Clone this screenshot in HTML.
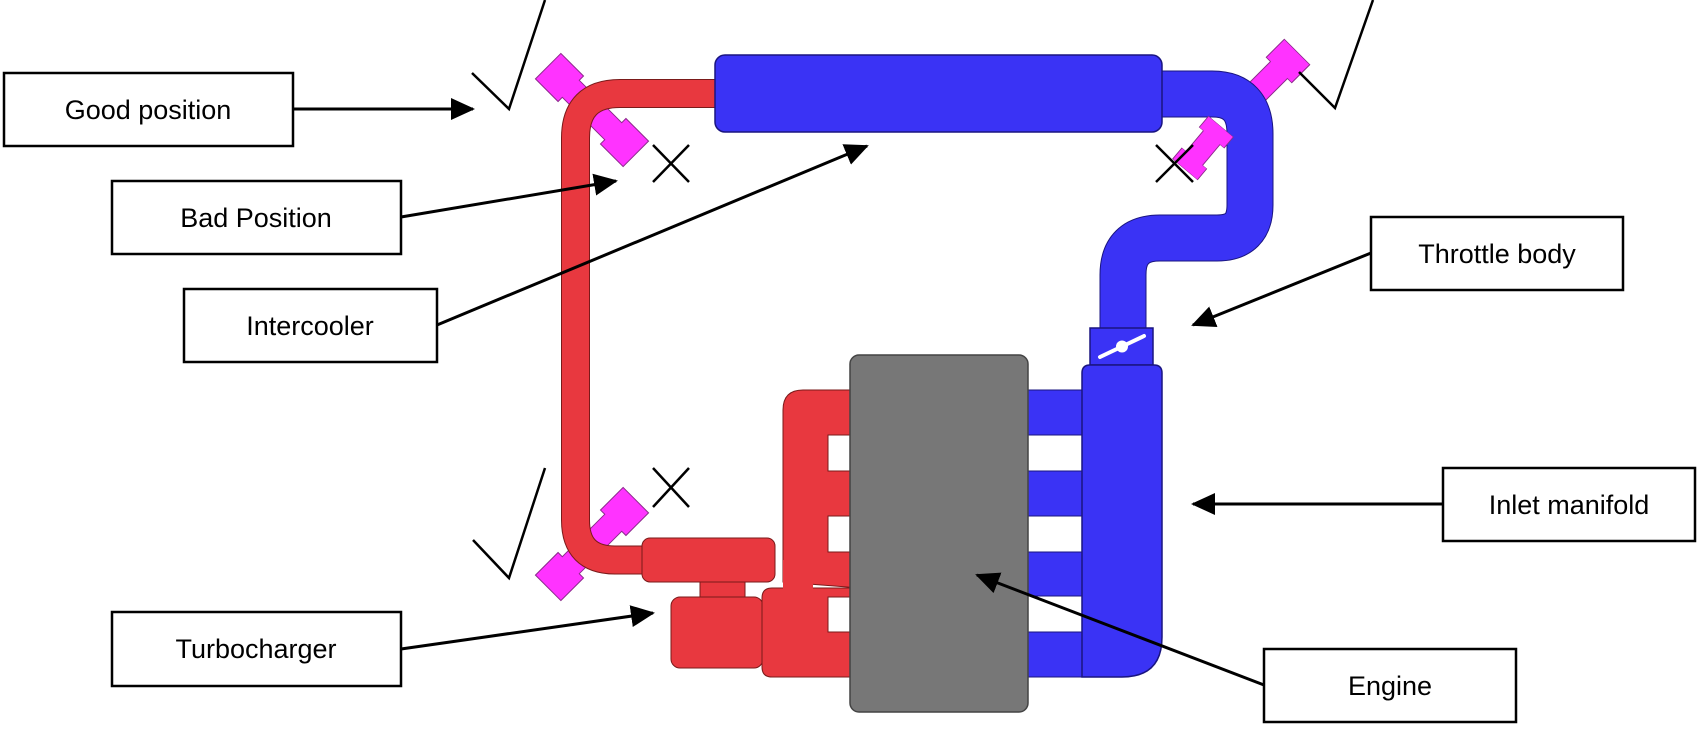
<!DOCTYPE html>
<html><head><meta charset="utf-8"><style>
html,body{margin:0;padding:0;background:#fff;}
svg{display:block;}
text{font-family:"Liberation Sans",sans-serif;font-size:27px;fill:#000;}
</style></head><body>
<svg width="1702" height="729" viewBox="0 0 1702 729" xmlns="http://www.w3.org/2000/svg">
<defs>
<marker id="ah" markerWidth="24" markerHeight="22" refX="22" refY="11" orient="auto" markerUnits="userSpaceOnUse">
<path d="M0,0 L24,11 L0,22 Z" fill="#000"/>
</marker>
<polygon id="sen" points="-62,-18 -30,-18 -30,-12 30,-12 30,-18 62,-18 62,18 30,18 30,12 -30,12 -30,18 -62,18" fill="#ff33ff" stroke="#8a2a8a" stroke-width="1"/>
</defs>

<use href="#sen" transform="translate(592,110) rotate(45)"/>
<use href="#sen" transform="translate(592,544) rotate(-45)"/>
<use href="#sen" transform="translate(1262,87) rotate(-45) scale(0.8,1)"/>

<path d="M716,93.5 H620 Q575.5,93.5 575.5,138 V520 Q575.5,560 615,560 H650" fill="none" stroke="#7a1a1a" stroke-width="29"/>
<path d="M717,93.5 H620 Q575.5,93.5 575.5,138 V520 Q575.5,560 615,560 H651" fill="none" stroke="#e8383f" stroke-width="27"/>

<path d="M1160,94 H1212 Q1250,94 1250,134 V205 Q1250,238 1217,238 H1160 Q1123,238 1123,275 V332" fill="none" stroke="#1a1580" stroke-width="47"/>
<path d="M1159,94 H1212 Q1250,94 1250,134 V205 Q1250,238 1217,238 H1160 Q1123,238 1123,275 V333" fill="none" stroke="#3a33f5" stroke-width="45"/>

<use href="#sen" transform="translate(1203,148) rotate(-50) scale(0.45,0.9)"/>

<rect x="715" y="55" width="447" height="77" rx="10" fill="#3a33f5" stroke="#1a1580" stroke-width="1.5"/>

<rect x="1090" y="328" width="63" height="37" fill="#3a33f5" stroke="#1a1580" stroke-width="1.5"/>
<line x1="1100" y1="357" x2="1144" y2="336" stroke="#fff" stroke-width="4" stroke-linecap="round"/>
<circle cx="1122" cy="346.5" r="6" fill="#fff"/>

<rect x="1025" y="390" width="60" height="45" fill="#3a33f5" stroke="#1a1580" stroke-width="1"/>
<rect x="1025" y="471" width="60" height="45" fill="#3a33f5" stroke="#1a1580" stroke-width="1"/>
<rect x="1025" y="552" width="60" height="44" fill="#3a33f5" stroke="#1a1580" stroke-width="1"/>
<rect x="1025" y="632" width="60" height="45" fill="#3a33f5" stroke="#1a1580" stroke-width="1"/>
<path d="M1082,373 Q1082,365 1090,365 H1154 Q1162,365 1162,373 V637 Q1162,677 1122,677 H1082 Z" fill="#3a33f5" stroke="#1a1580" stroke-width="1.5"/>

<rect x="700" y="578" width="45" height="22" fill="#e8383f" stroke="#7a1a1a" stroke-width="1"/>
<rect x="642" y="538" width="133" height="44" rx="8" fill="#e8383f" stroke="#7a1a1a" stroke-width="1"/>
<rect x="671" y="597" width="92" height="71" rx="9" fill="#e8383f" stroke="#7a1a1a" stroke-width="1"/>
<path d="M762,598 Q762,588 772,588 H860 V677 H772 Q762,677 762,667 Z" fill="#e8383f" stroke="#7a1a1a" stroke-width="1"/>
<path d="M783,582 V410 Q783,390 803,390 H860 V588 Z" fill="#e8383f" stroke="#7a1a1a" stroke-width="1"/>
<rect x="783" y="560" width="30" height="40" fill="#e8383f"/>
<rect x="828" y="435" width="25" height="36" fill="#fff" stroke="#7a1a1a" stroke-width="1"/>
<rect x="828" y="516" width="25" height="36" fill="#fff" stroke="#7a1a1a" stroke-width="1"/>
<rect x="828" y="597" width="25" height="35" fill="#fff" stroke="#7a1a1a" stroke-width="1"/>

<rect x="850" y="355" width="178" height="357" rx="9" fill="#777777" stroke="#444" stroke-width="1.5"/>

<g fill="none" stroke="#000" stroke-width="2.5">
<polyline points="472,73 509,109 545,0"/>
<polyline points="1299,72 1335,108 1373,0"/>
<polyline points="473,540 509,578 545,468"/>
<line x1="653" y1="145" x2="689" y2="182"/><line x1="689" y1="145" x2="653" y2="182"/>
<line x1="1156" y1="145" x2="1193" y2="182"/><line x1="1193" y1="145" x2="1156" y2="182"/>
<line x1="653" y1="468" x2="689" y2="507"/><line x1="689" y1="468" x2="653" y2="507"/>
</g>

<g fill="#fff" stroke="#000" stroke-width="2.5">
<rect x="4" y="73" width="289" height="73"/>
<rect x="112" y="181" width="289" height="73"/>
<rect x="184" y="289" width="253" height="73"/>
<rect x="112" y="612" width="289" height="74"/>
<rect x="1371" y="217" width="252" height="73"/>
<rect x="1443" y="468" width="252" height="73"/>
<rect x="1264" y="649" width="252" height="73"/>
</g>
<g text-anchor="middle">
<text x="148" y="119">Good position</text>
<text x="256" y="227">Bad Position</text>
<text x="310" y="335">Intercooler</text>
<text x="256" y="658">Turbocharger</text>
<text x="1497" y="263">Throttle body</text>
<text x="1569" y="514">Inlet manifold</text>
<text x="1390" y="695">Engine</text>
</g>

<g stroke="#000" stroke-width="3" fill="none" marker-end="url(#ah)">
<line x1="293" y1="109" x2="473" y2="109"/>
<line x1="401" y1="217" x2="616" y2="181"/>
<line x1="437" y1="325" x2="867" y2="146"/>
<line x1="401" y1="649" x2="653" y2="613"/>
<line x1="1371" y1="253" x2="1193" y2="325"/>
<line x1="1443" y1="504" x2="1193" y2="504"/>
<line x1="1264" y1="685" x2="977" y2="575"/>
</g>
</svg>
</body></html>
